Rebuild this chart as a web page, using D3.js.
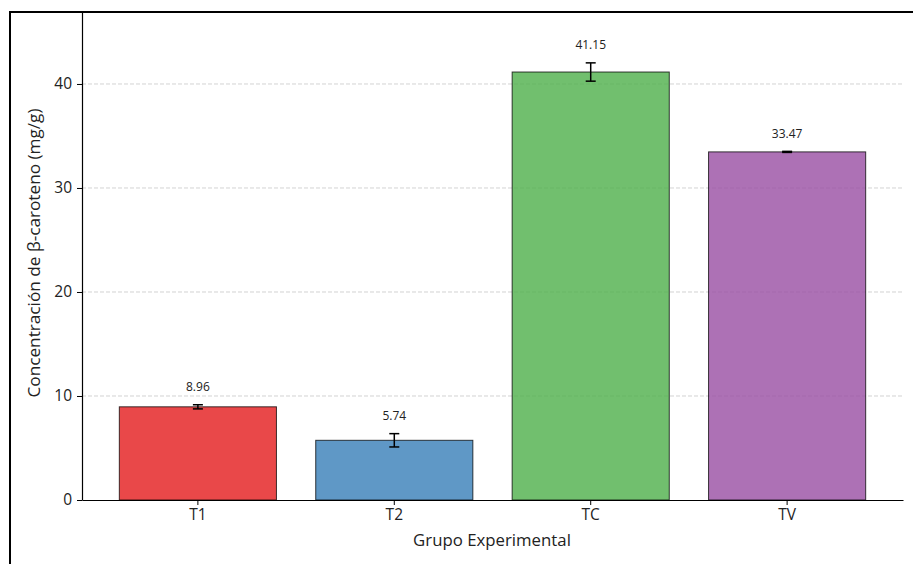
<!DOCTYPE html>
<html>
<head>
<meta charset="utf-8">
<script src="https://cdn.jsdelivr.net/npm/d3@7"></script>
<style>
  html, body { margin: 0; padding: 0; background: #fff; }
  svg { display: block; }
  text { font-family: "Open Sans", "Noto Sans", sans-serif; fill: #222; }
</style>
</head>
<body>
<svg id="chart" width="913" height="564"></svg>
<script>
// Beta-carotene concentration per experimental group
const groups = ["T1", "T2", "TC", "TV"];
const means = [8.96, 5.74, 41.15, 33.47];
const errors = [0.2, 0.64, 0.88, 0.05];
const colors = ["#e41a1c", "#377eb8", "#4daf4a", "#984ea3"];
const yTicks = [0, 10, 20, 30, 40];

const svg = d3.select("#chart");
const W = 913, H = 564;
const FONT = "'Open Sans', 'Noto Sans', sans-serif";

// outer frame
svg.append("rect")
  .attr("x", 10).attr("y", 12)
  .attr("width", W + 10).attr("height", H + 10)
  .attr("fill", "none").attr("stroke", "#000").attr("stroke-width", 2);

const x = d3.scaleBand()
  .domain(groups)
  .range([82, 903])
  .paddingInner(0.2)
  .paddingOuter(0.19);

const y = d3.scaleLinear()
  .domain([0, 46.92])
  .range([500, 12]);

// grid
svg.append("g")
  .selectAll("line")
  .data(yTicks.filter(d => d > 0))
  .join("line")
  .attr("x1", 82).attr("x2", 903)
  .attr("y1", d => y(d)).attr("y2", d => y(d))
  .attr("stroke", "#b0b0b0")
  .attr("stroke-opacity", 0.7)
  .attr("stroke-width", 0.8)
  .attr("stroke-dasharray", "4,2");

// bars
const data = groups.map((g, i) => ({ g, v: means[i], e: errors[i], c: colors[i] }));
svg.append("g")
  .selectAll("rect")
  .data(data)
  .join("rect")
  .attr("x", d => x(d.g))
  .attr("width", x.bandwidth())
  .attr("y", d => y(d.v))
  .attr("height", d => y(0) - y(d.v))
  .attr("fill", d => d.c)
  .attr("fill-opacity", 0.8)
  .attr("stroke", "#000")
  .attr("stroke-opacity", 0.75)
  .attr("stroke-width", 1);

// error bars
const eb = svg.append("g").attr("stroke", "#000").attr("stroke-width", 1.5);
data.forEach(d => {
  const cx = x(d.g) + x.bandwidth() / 2;
  eb.append("line").attr("x1", cx).attr("x2", cx)
    .attr("y1", y(d.v - d.e)).attr("y2", y(d.v + d.e));
  [d.v - d.e, d.v + d.e].forEach(v => {
    eb.append("line").attr("x1", cx - 5).attr("x2", cx + 5)
      .attr("y1", y(v)).attr("y2", y(v));
  });
});

// value labels
svg.append("g")
  .selectAll("text")
  .data(data)
  .join("text")
  .attr("x", d => x(d.g) + x.bandwidth() / 2)
  .attr("y", d => y(d.v + d.e + 1) - 3)
  .attr("text-anchor", "middle")
  .attr("font-size", 12)
  .text(d => d.v.toFixed(2));

// axes
const yAxis = svg.append("g")
  .attr("transform", "translate(82,0)")
  .call(d3.axisLeft(y).tickValues(yTicks).tickSize(5).tickPadding(5).tickSizeOuter(0));
const xAxis = svg.append("g")
  .attr("transform", "translate(0,500)")
  .call(d3.axisBottom(x).tickSize(5).tickPadding(4).tickSizeOuter(0));
[yAxis, xAxis].forEach(a => {
  a.select(".domain").attr("stroke", "#000").attr("stroke-width", 1.2);
  a.selectAll(".tick line").attr("stroke", "#000").attr("stroke-width", 1);
  a.selectAll(".tick text").attr("font-size", 15.5).attr("fill", "#222")
    .style("font-family", FONT);
});

// axis titles
svg.append("text")
  .attr("x", 492).attr("y", 546)
  .attr("text-anchor", "middle")
  .attr("font-size", 16.8)
  .text("Grupo Experimental");

svg.append("text")
  .attr("transform", "translate(40,253) rotate(-90)")
  .attr("text-anchor", "middle")
  .attr("font-size", 17.2)
  .text("Concentración de β-caroteno (mg/g)");
</script>
</body>
</html>
